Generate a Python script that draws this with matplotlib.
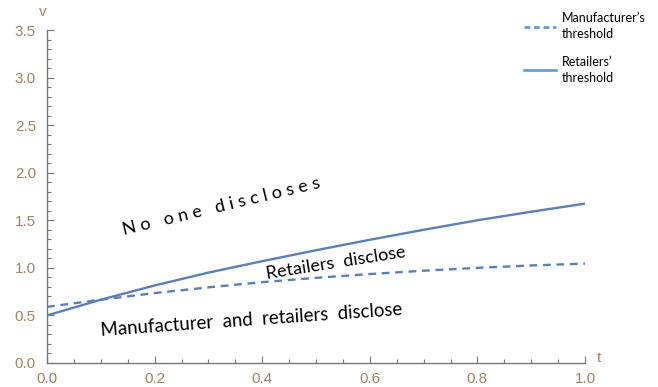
import matplotlib
matplotlib.use("Agg")
import matplotlib.pyplot as plt
from matplotlib.lines import Line2D
from matplotlib.ticker import MultipleLocator, FormatStrFormatter

# Threshold curves v(t)
t = [0.0, 0.1, 0.2, 0.3, 0.4, 0.5, 0.6, 0.7, 0.8, 0.9, 1.0]
retailers_threshold = [0.50, 0.665, 0.815, 0.95, 1.07, 1.185, 1.295, 1.40, 1.50, 1.59, 1.675]
manufacturer_threshold = [0.59, 0.665, 0.735, 0.795, 0.85, 0.895, 0.935, 0.97, 1.00, 1.025, 1.045]

legend_labels = ["Manufacturer\u2019s\nthreshold", "Retailers\u2019\nthreshold"]
region_labels = ["N o   o n e   d i s c l o s e s",
                 "Retailers  disclose",
                 "Manufacturer  and  retailers  disclose"]

W, H, DPI = 658, 387, 100
fig = plt.figure(figsize=(W / DPI, H / DPI), dpi=DPI)
ax = fig.add_axes([47 / W, (H - 363) / H, (585 - 47) / W, (363 - 30) / H])

curve_color = "#5a7fbf"
ax.plot(t, manufacturer_threshold, color=curve_color, lw=1.7, dashes=(3.3, 2.4))
ax.plot(t, retailers_threshold, color=curve_color, lw=1.7)

ax.set_xlim(0, 1.0)
ax.set_ylim(0, 3.5)

for side in ("top", "right"):
    ax.spines[side].set_visible(False)
for side in ("left", "bottom"):
    ax.spines[side].set_color("#777777")
    ax.spines[side].set_linewidth(1.0)

tick_color = "#a5845f"
ax.xaxis.set_major_locator(MultipleLocator(0.2))
ax.xaxis.set_minor_locator(MultipleLocator(0.05))
ax.yaxis.set_major_locator(MultipleLocator(0.5))
ax.yaxis.set_minor_locator(MultipleLocator(0.1))
ax.xaxis.set_major_formatter(FormatStrFormatter("%.1f"))
ax.yaxis.set_major_formatter(FormatStrFormatter("%.1f"))
ax.tick_params(which="both", direction="in", color="#777777", width=0.8)
ax.tick_params(which="major", length=5, labelsize=11, labelcolor=tick_color)
ax.tick_params(which="minor", length=3)
ax.tick_params(axis="x", which="major", pad=6.5)
ax.tick_params(axis="y", which="major", pad=8)
for lab in ax.get_xticklabels() + ax.get_yticklabels():
    lab.set_fontfamily("Liberation Sans")

# axis names at the ends of the axes
ax.text(-0.007, 3.69, "v", color=tick_color, fontsize=11, family="Liberation Sans",
        ha="center", va="center", clip_on=False)
ax.text(1.026, 0.05, "t", color=tick_color, fontsize=11, family="Liberation Sans",
        ha="center", va="center", clip_on=False)

# region annotations
ax.text(0.325, 1.65, region_labels[0], rotation=13.5, fontsize=13, family="Lato",
        ha="center", va="center", rotation_mode="anchor")
ax.text(0.537, 1.05, region_labels[1], rotation=9, fontsize=13, family="Lato",
        ha="center", va="center", rotation_mode="anchor")
ax.text(0.38, 0.45, region_labels[2], rotation=4, fontsize=13.4, family="Lato",
        ha="center", va="center", rotation_mode="anchor")

# legend
legend_color = "#5b9bd5"
handles = [Line2D([], [], color=legend_color, lw=1.9, dashes=(2.2, 1.4)),
           Line2D([], [], color=legend_color, lw=1.9)]
leg = fig.legend(handles, legend_labels, loc="upper left",
                 bbox_to_anchor=(524 / W, 1 - 12 / H), frameon=False,
                 prop={"family": "Lato", "size": 9},
                 handlelength=2.55, handletextpad=0.5, labelspacing=1.2,
                 borderaxespad=0, borderpad=0)
for txt in leg.get_texts():
    txt.set_linespacing(1.45)

fig.savefig("out.png", dpi=DPI)
